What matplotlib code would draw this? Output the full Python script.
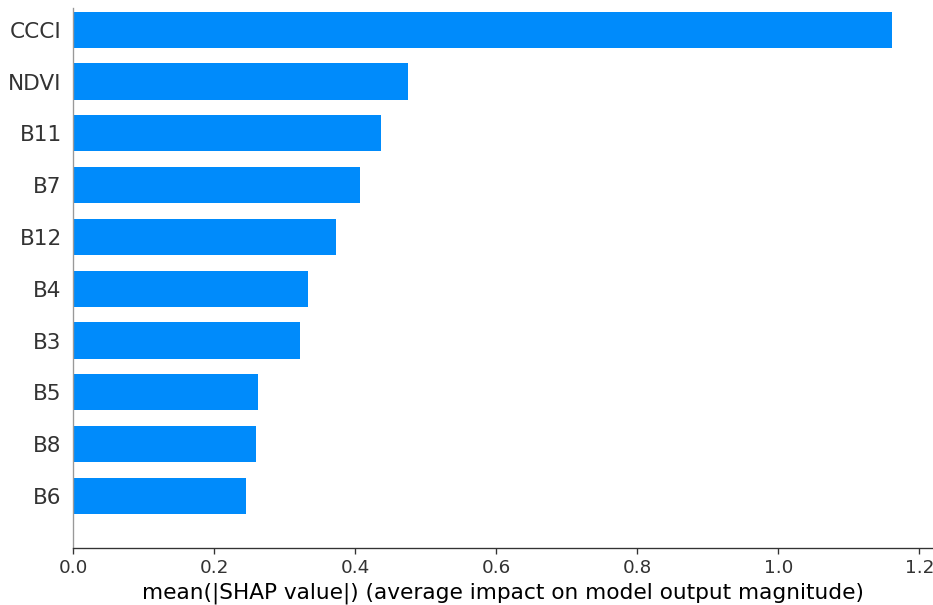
import matplotlib
matplotlib.use("Agg")
import matplotlib.pyplot as plt

# features, most important first
features = ["CCCI", "NDVI", "B11", "B7", "B12", "B4", "B3", "B5", "B8", "B6"]
mean_abs_shap = [1.161, 0.474, 0.437, 0.406, 0.372, 0.333, 0.321, 0.262, 0.259, 0.245]

axis_color = "#333333"
bar_color = "#008bfb"
s = 1.2  # the reference was rendered a bit larger than 100 dpi

# shap draws the least important feature at the bottom
feats = features[::-1]
vals = mean_abs_shap[::-1]
y_pos = list(range(len(feats)))

fig = plt.figure(figsize=(9.33, 6.05), dpi=100)
ax = fig.add_axes([0.0786, 0.0947, 0.9204, 0.8921])

ax.barh(y_pos, vals, 0.7, align="center", color=bar_color)
ax.set_yticks(y_pos)
ax.set_yticklabels(feats, fontsize=13 * s)

ax.xaxis.set_ticks_position("bottom")
ax.yaxis.set_ticks_position("none")
ax.spines["right"].set_visible(False)
ax.spines["top"].set_visible(False)
ax.spines["left"].set_color("#999999")
ax.spines["left"].set_linewidth(0.8 * s)
ax.spines["bottom"].set_color(axis_color)
ax.spines["bottom"].set_linewidth(0.8 * s)
ax.tick_params(color=axis_color, labelcolor=axis_color)
ax.tick_params("x", labelsize=11 * s, length=3.5 * s, width=0.8 * s, pad=3.5 * s)
ax.tick_params("y", pad=3.5 * s, length=3.5 * s)

ax.set_ylim(-1, 9.42)
ax.set_xlim(0, 1.218)
ax.set_xticks([0.0, 0.2, 0.4, 0.6, 0.8, 1.0, 1.2])
ax.set_xlabel("mean(|SHAP value|) (average impact on model output magnitude)",
              fontsize=13 * s, color="black", labelpad=3 * s)

fig.savefig("out.png", dpi=100)
